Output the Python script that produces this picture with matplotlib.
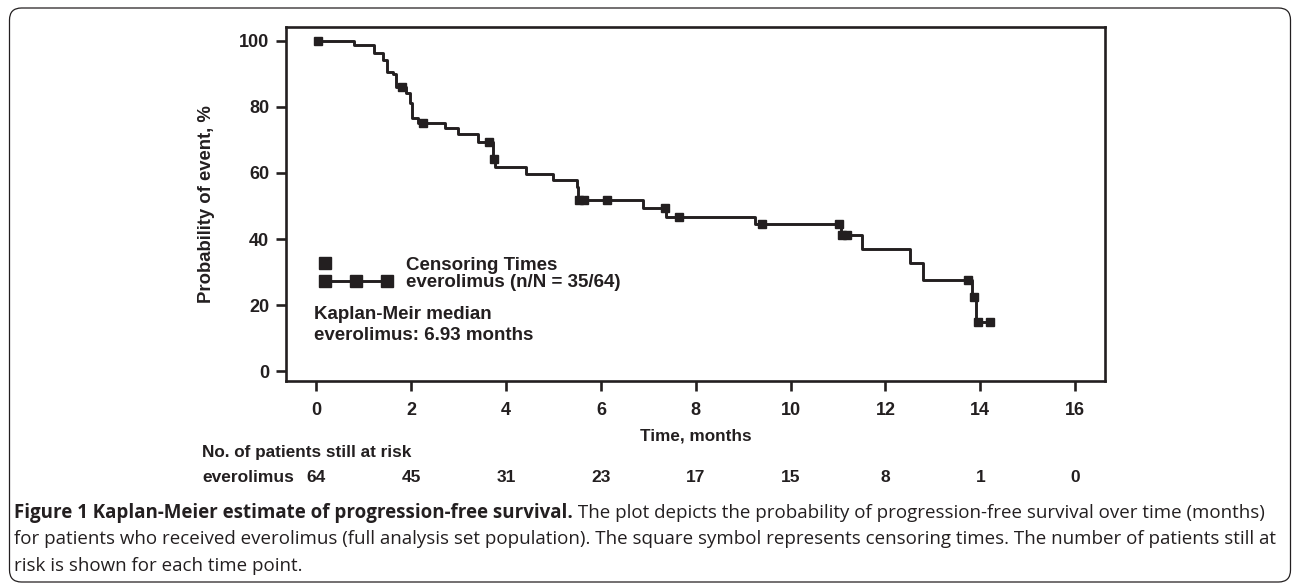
import matplotlib.pyplot as plt
import matplotlib.transforms as mtransforms
import numpy as np
from matplotlib.legend_handler import HandlerLine2D
from matplotlib.lines import Line2D
from matplotlib.patches import FancyBboxPatch

INK = '#231f20'
CHART_FONT = ['Liberation Sans', 'DejaVu Sans']
CAPTION_FONT = ['Open Sans', 'DejaVu Sans']

# Kaplan-Meier curve: time of each step (months) and probability after it (%)
step_times = [0, 0.79, 1.21, 1.40, 1.49, 1.62, 1.68, 1.89, 1.97, 2.01, 2.15,
              2.71, 2.99, 3.40, 3.72, 3.77, 4.43, 5.00, 5.49, 5.52, 6.88,
              7.37, 9.25, 11.06, 11.50, 12.51, 12.80, 13.82, 13.90]
step_probs = [100, 98.7, 96.2, 94.2, 90.7, 89.9, 85.9, 84.1, 81.1, 76.8, 75.2,
              73.6, 71.8, 69.4, 64.3, 61.9, 59.7, 57.9, 55.9, 51.7, 49.3,
              46.8, 44.6, 41.3, 37.0, 32.7, 27.7, 22.3, 14.9]
last_time = 14.2

# censoring times (months)
censor_times = [0.04, 1.80, 2.24, 3.65, 3.74, 5.54, 5.64, 6.12, 7.35, 7.65,
                9.39, 11.03, 11.09, 11.20, 13.74, 13.86, 13.96, 14.2]

# number at risk table
risk_times = [0, 2, 4, 6, 8, 10, 12, 14, 16]
risk_counts = [64, 45, 31, 23, 17, 15, 8, 1, 0]

y_ticks = [0, 20, 40, 60, 80, 100]

caption_bold = 'Figure 1 Kaplan-Meier estimate of progression-free survival.'
caption_lines = [
    ' The plot depicts the probability of progression-free survival over time (months)',
    'for patients who received everolimus (full analysis set population). '
    'The square symbol represents censoring times. The number of patients still at',
    'risk is shown for each time point.',
]


class LeftMarkerHandler(HandlerLine2D):
    # one marker at the left end of the handle instead of the middle
    def get_xdata(self, legend, xdescent, ydescent, width, height, fontsize):
        x0 = -xdescent
        return [x0, x0], [x0]


fig = plt.figure(figsize=(12.92, 5.85), dpi=100)
ax = fig.add_axes([286 / 1292, 1 - 380.7 / 585, (1105 - 286) / 1292, (380.7 - 26.7) / 585])

# curve
xs = step_times + [last_time]
ys = step_probs + [step_probs[-1]]
ax.step(xs, ys, where='post', color=INK, linewidth=2.1)

idx = np.searchsorted(step_times, censor_times, side='right') - 1
censor_probs = np.array(step_probs)[idx]
ax.plot(censor_times, censor_probs, linestyle='none', marker='s',
        markersize=6, color=INK)

ax.set_xlim(-0.64, 16.63)
ax.set_ylim(-2.9, 104.3)
ax.set_xticks(risk_times)
ax.set_yticks(y_ticks)

for side in ['top', 'right', 'bottom', 'left']:
    ax.spines[side].set_linewidth(1.9)
    ax.spines[side].set_color(INK)

ax.tick_params(axis='both', direction='out', length=7, width=1.9, color=INK,
               labelsize=13, labelcolor=INK)
ax.tick_params(axis='x', pad=8)
ax.tick_params(axis='y', pad=5)
for lbl in ax.get_xticklabels() + ax.get_yticklabels():
    lbl.set_fontweight('bold')
    lbl.set_family(CHART_FONT)

ax.set_ylabel('Probability of event, %', fontsize=13.3, fontweight='bold',
              color=INK, family=CHART_FONT)
ax.yaxis.set_label_coords(-0.0867, 0.5)
ax.set_xlabel('Time, months', fontsize=12.3, fontweight='bold',
              color=INK, family=CHART_FONT)
ax.xaxis.set_label_coords(0.5, -0.135)

# legend
h_censor = Line2D([], [], linestyle='none', marker='s', markersize=9, color=INK)
h_curve = Line2D([], [], color=INK, linewidth=2.1, marker='s', markersize=9)
ax.legend([h_censor, h_curve],
          ['Censoring Times', 'everolimus (n/N = 35/64)'],
          handler_map={h_censor: LeftMarkerHandler(numpoints=1),
                       h_curve: HandlerLine2D(numpoints=3, marker_pad=0.0)},
          loc='upper left', bbox_to_anchor=(0.0477, 0.35), frameon=False,
          borderpad=0, borderaxespad=0, handlelength=3.3, handletextpad=1.0,
          labelspacing=0.02, prop={'family': CHART_FONT, 'weight': 'bold', 'size': 13.5},
          labelcolor=INK)

ax.text(0.034, 0.158, 'Kaplan-Meir median\neverolimus: 6.93 months',
        transform=ax.transAxes, ha='left', va='center', fontsize=13.5,
        fontweight='bold', color=INK, family=CHART_FONT, linespacing=1.32)

# number at risk
row_tr = mtransforms.blended_transform_factory(ax.transData, fig.transFigure)
fig.text(202 / 1292, 1 - 453 / 585, 'No. of patients still at risk', ha='left',
         va='center', fontsize=12.3, fontweight='bold', color=INK, family=CHART_FONT)
fig.text(202 / 1292, 1 - 478 / 585, 'everolimus', ha='left', va='center',
         fontsize=12.5, fontweight='bold', color=INK, family=CHART_FONT)
for t, n in zip(risk_times, risk_counts):
    ax.text(t, 1 - 478 / 585, str(n), transform=row_tr, ha='center', va='center',
            fontsize=12.5, fontweight='bold', color=INK, family=CHART_FONT, clip_on=False)

# caption
cap_size = 13.5
bold = fig.text(14 / 1292, 1 - 513 / 585, caption_bold, ha='left', va='center',
                fontsize=cap_size, fontweight='bold', color=INK, family=CAPTION_FONT)
ax.annotate(caption_lines[0], xy=(1, 0.5), xycoords=bold, ha='left', va='center',
            fontsize=cap_size, color=INK, family=CAPTION_FONT, annotation_clip=False)
fig.text(14 / 1292, 1 - 539.5 / 585, caption_lines[1], ha='left', va='center',
         fontsize=cap_size, color=INK, family=CAPTION_FONT)
fig.text(14 / 1292, 1 - 566 / 585, caption_lines[2], ha='left', va='center',
         fontsize=cap_size, color=INK, family=CAPTION_FONT)

# rounded frame around the figure
frame = FancyBboxPatch((0.095, 0.03), 12.81, 5.74,
                       boxstyle='round,pad=0,rounding_size=0.12',
                       transform=fig.dpi_scale_trans, facecolor='none',
                       edgecolor=INK, linewidth=0.9)
fig.patches.append(frame)

fig.savefig('out.png', dpi=100)
